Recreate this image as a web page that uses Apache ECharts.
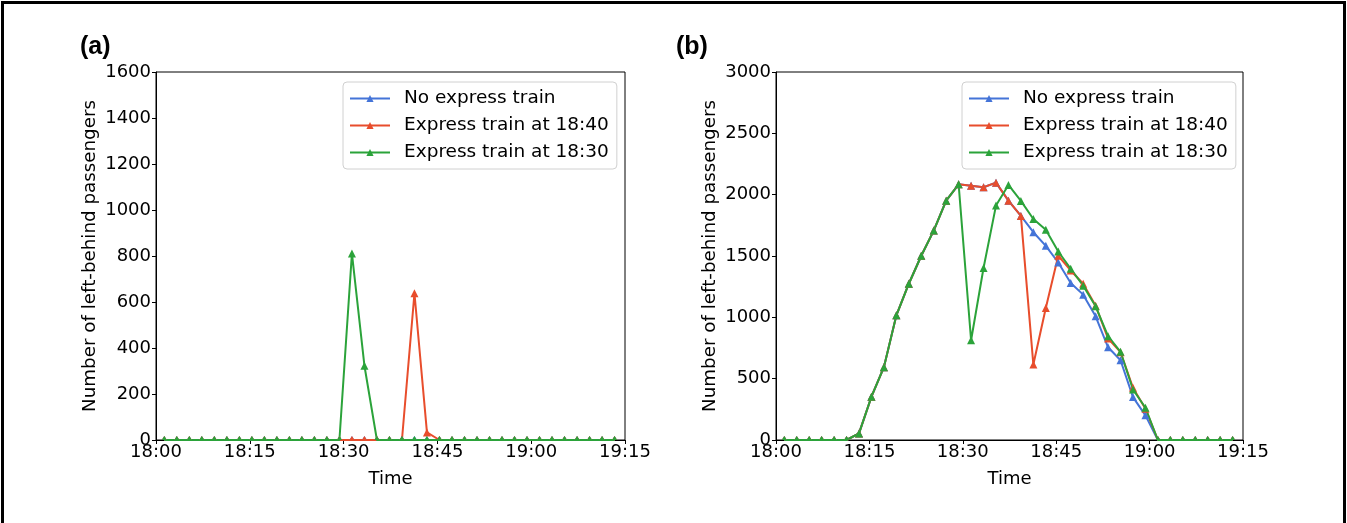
<!DOCTYPE html>
<html>
<head>
<meta charset="utf-8">
<script src="https://cdn.jsdelivr.net/npm/echarts@6/dist/echarts.min.js"></script>
<style>
  html, body { margin: 0; padding: 0; background: #fff; }
  #chart { width: 1347px; height: 523px; }
  #frame { position: absolute; left: 1px; top: 1px; width: 1345px; height: 540px; border: 3px solid #000; box-sizing: border-box; pointer-events: none; }
</style>
</head>
<body>
<div id="chart"></div>
<div id="frame"></div>
<script>
// ---- data (minutes after 18:00) ----
const times = [1.33, 3.33, 5.33, 7.33, 9.33, 11.33, 13.33, 15.33, 17.33, 19.33,
  21.33, 23.33, 25.33, 27.33, 29.33, 31.33, 33.33, 35.33, 37.33, 39.33,
  41.33, 43.33, 45.33, 47.33, 49.33, 51.33, 53.33, 55.33, 57.33, 59.33,
  61.33, 63.33, 65.33, 67.33, 69.33, 71.33, 73.33];
const xTickLabels = ['18:00', '18:15', '18:30', '18:45', '19:00', '19:15'];
const seriesNames = ['No express train', 'Express train at 18:40', 'Express train at 18:30'];

// Panel (a)
const noExpressA = [0,0,0,0,0,0,0,0,0,0, 0,0,0,0,0,0,0,0,0,0, 0,0,0,0,0,0,0,0,0,0, 0,0,0,0,0,0,0];
const express1840A = [0,0,0,0,0,0,0,0,0,0, 0,0,0,0,0,0,0,0,0,0, 638,33,0,0,0,0,0,0,0,0, 0,0,0,0,0,0,0];
const express1830A = [0,0,0,0,0,0,0,0,0,0, 0,0,0,0,0,811,323,0,0,0, 0,0,0,0,0,0,0,0,0,0, 0,0,0,0,0,0,0];

// Panel (b)
const noExpressB = [0,0,0,0,0,0,54,353,594,1016, 1274,1502,1707,1951,2084,2073,2060,2098,1951,1827,
  1694,1583,1447,1280,1185,1008,756,650,350,201, 0,0,0,0,0,0,0];
const express1840B = [0,0,0,0,0,0,54,353,594,1016, 1274,1502,1707,1951,2084,2073,2060,2098,1951,1827,
  615,1076,1502,1382,1274,1095,827,716,426,255, 0,0,0,0,0,0,0];
const express1830B = [0,0,0,0,0,0,54,353,594,1016, 1274,1502,1707,1951,2084,813,1402,1911,2079,1949,
  1802,1713,1537,1396,1258,1090,846,719,412,263, 0,0,0,0,0,0,0];

const colors = ['#4474d8', '#e84d2c', '#2ba33a'];
const FONT = 'DejaVu Sans';

function buildData(vals) {
  return vals.map((v, i) => v === 0
    ? { value: [times[i], v], symbolSize: [5, 4], symbolOffset: [0, -2] }
    : { value: [times[i], v] });
}

function makeSeries(vals, idx, gridIdx) {
  return {
    type: 'line',
    name: seriesNames[idx],
    xAxisIndex: gridIdx,
    yAxisIndex: gridIdx,
    data: buildData(vals),
    symbol: 'triangle',
    symbolSize: 8,
    showAllSymbol: true,
    clip: false,
    lineStyle: { color: colors[idx], width: 2 },
    itemStyle: { color: colors[idx] },
    emphasis: { disabled: true },
    animation: false
  };
}

function xAxisCfg(gridIdx) {
  return {
    type: 'value', gridIndex: gridIdx, min: 0, max: 75, interval: 15,
    name: 'Time', nameLocation: 'middle', nameGap: 30,
    nameTextStyle: { fontFamily: FONT, fontSize: 18, color: '#000' },
    axisLine: { onZero: false, lineStyle: { color: '#000', width: 1 } },
    axisTick: { length: 4, lineStyle: { color: '#000' } },
    axisLabel: { fontFamily: FONT, fontSize: 18, color: '#000', margin: 3,
      formatter: v => xTickLabels[Math.round(v / 15)] },
    splitLine: { show: false }
  };
}
function yAxisCfg(gridIdx, max, interval) {
  return {
    type: 'value', gridIndex: gridIdx, min: 0, max: max, interval: interval,
    name: 'Number of left-behind passengers', nameLocation: 'middle', nameGap: 57,
    nameTextStyle: { fontFamily: FONT, fontSize: 18.3, color: '#000' },
    axisLine: { show: true, onZero: false, lineStyle: { color: '#000', width: 1 } },
    axisTick: { show: true, length: 4, lineStyle: { color: '#000' } },
    axisLabel: { fontFamily: FONT, fontSize: 18, color: '#000', margin: 5,
      formatter: v => String(v) },
    splitLine: { show: false }
  };
}
function legendCfg(left) {
  return {
    orient: 'vertical', left: left, top: 82,
    data: seriesNames,
    itemWidth: 40, itemHeight: 9, itemGap: 8,
    padding: [7, 8, 7, 6],
    borderColor: '#d0d0d0', borderWidth: 1, borderRadius: 4,
    backgroundColor: 'rgba(255,255,255,0.8)',
    selectedMode: false,
    textStyle: { fontFamily: FONT, fontSize: 18.5, color: '#000', padding: [0, 0, 0, 9] }
  };
}

const chart = echarts.init(document.getElementById('chart'), null, { renderer: 'canvas' });
chart.setOption({
  backgroundColor: '#fff',
  animation: false,
  grid: [
    { left: 156, top: 72, width: 469, height: 368, show: true, borderColor: '#000', borderWidth: 1, backgroundColor: 'transparent' },
    { left: 776, top: 72, width: 467, height: 368, show: true, borderColor: '#000', borderWidth: 1, backgroundColor: 'transparent' }
  ],
  xAxis: [xAxisCfg(0), xAxisCfg(1)],
  yAxis: [yAxisCfg(0, 1600, 200), yAxisCfg(1, 3000, 500)],
  legend: [legendCfg(343), legendCfg(962)],
  graphic: [
    { type: 'text', left: 80, top: 35, style: { text: '(a)', fontFamily: 'Liberation Sans', fontSize: 25, fontWeight: 'bold', fill: '#000' } },
    { type: 'text', left: 676, top: 35, style: { text: '(b)', fontFamily: 'Liberation Sans', fontSize: 25, fontWeight: 'bold', fill: '#000' } }
  ],
  series: [
    makeSeries(noExpressA, 0, 0),
    makeSeries(express1840A, 1, 0),
    makeSeries(express1830A, 2, 0),
    makeSeries(noExpressB, 0, 1),
    makeSeries(express1840B, 1, 1),
    makeSeries(express1830B, 2, 1)
  ]
});
</script>
</body>
</html>
